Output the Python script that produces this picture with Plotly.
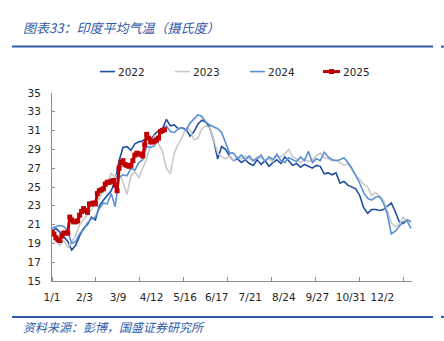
import datetime as dt
import plotly.graph_objects as go

# ---------------- data ----------------
grid_days = list(range(0, 365, 4))  # day-of-year index, every 4 days

t2022 = [20.3, 20.6, 20.2, 19.7, 19.2, 18.3, 18.8, 19.8, 20.6, 21.0, 21.8, 21.5,
         23.0, 23.6, 24.1, 24.6, 25.6, 27.8, 29.2, 29.3, 28.9, 29.6, 29.8, 29.9,
         30.3, 30.0, 30.6, 31.0, 31.2, 32.2, 31.5, 31.6, 31.2, 31.3, 31.1, 30.4,
         30.9, 31.7, 32.1, 31.9, 31.3, 29.9, 28.0, 29.3, 29.0, 28.3, 27.8, 28.0,
         27.6, 27.9, 27.5, 27.3, 27.9, 27.4, 27.8, 27.2, 27.6, 27.9, 27.5, 28.2,
         27.8, 27.3, 27.5, 27.1, 27.4, 27.2, 27.0, 27.3, 27.2, 26.4, 26.5, 26.3,
         26.5, 25.4, 25.6, 25.2, 25.0, 24.8, 24.1, 22.8, 22.2, 22.6, 22.6, 22.5,
         22.6, 23.0, 23.3, 22.4, 21.3, 21.1, 21.5, 21.3]

t2023 = [20.3, 19.2, 18.8, 19.3, 18.6, 19.2, 19.8, 21.0, 21.5, 22.0, 22.6, 23.3,
         23.8, 24.5, 25.2, 26.5, 26.0, 26.5, 25.5, 24.2, 26.2, 26.6, 26.0, 27.0,
         28.0, 29.5, 30.5, 29.6, 28.8, 27.0, 26.4, 28.6, 29.6, 30.3, 31.3, 31.1,
         30.0, 30.2, 31.2, 31.5, 31.3, 30.0, 28.6, 28.2, 28.0, 28.3, 27.8, 28.2,
         28.0, 28.3, 28.0, 27.8, 28.2, 28.1, 27.9, 28.0, 27.7, 28.3, 28.2, 28.5,
         29.0, 28.2, 28.0, 27.6, 27.9, 27.7, 27.9, 28.3, 28.6, 28.1, 28.0, 27.8,
         27.9, 27.6, 27.3, 27.5, 26.8, 26.2, 25.8, 25.3, 25.0, 24.1, 24.4, 24.0,
         23.6, 22.5, 21.2, 20.8, 21.0, 21.8, 21.4, 21.2]

t2024 = [20.6, 20.8, 20.9, 20.8, 20.3, 19.0, 19.2, 20.0, 20.5, 21.2, 21.6, 21.8,
         22.7, 23.3, 23.2, 24.3, 22.9, 26.0, 26.3, 26.2, 27.0, 26.8, 27.6, 27.9,
         29.3, 29.2, 29.4, 30.3, 31.3, 31.5, 30.9, 30.8, 31.2, 31.3, 31.0, 31.8,
         32.3, 32.7, 32.5, 31.9, 31.6, 31.4, 31.2, 30.8, 29.8, 28.6, 28.6, 28.0,
         28.4, 27.9, 28.3, 27.8, 28.0, 28.4, 27.7, 28.2, 27.9, 28.5, 27.8, 27.6,
         28.1, 27.9, 27.7, 28.2, 27.8, 28.8, 27.6, 28.0, 27.8, 28.7, 28.2, 27.9,
         27.8, 27.9, 28.1, 27.6, 27.0, 26.2, 25.4, 24.4, 23.8, 23.6, 23.9, 24.0,
         23.3, 22.1, 20.0, 20.3, 20.8, 21.3, 21.4, 20.6]

days_2025 = list(range(0, 116, 2))
t2025 = [20.2, 20.0, 19.6, 19.4, 19.3, 19.8, 20.1, 20.1, 20.1, 21.8, 21.5, 21.3,
         21.3, 21.4, 22.0, 22.4, 22.7, 22.5, 22.3, 23.2, 23.2, 23.3, 23.2, 24.3,
         24.6, 24.7, 24.8, 25.3, 25.5, 25.5, 25.6, 25.7, 25.2, 24.6, 27.0, 27.6,
         27.8, 27.4, 27.3, 27.2, 27.3, 27.8, 28.4, 28.6, 28.5, 28.5, 28.3, 29.5,
         30.6, 30.2, 29.8, 29.8, 29.9, 30.0, 30.2, 30.9, 31.0, 31.1]

tick_labels = ["1/1", "2/3", "3/9", "4/12", "5/16", "6/17", "7/21", "8/24",
               "9/27", "10/31", "12/2"]
y_ticks = list(range(15, 36, 2))

title_text = "图表33：印度平均气温（摄氏度）"
source_text = "资料来源：彭博，国盛证券研究所"

# ---------------- derived ----------------
def doy(lbl):
    m, d = map(int, lbl.split("/"))
    return (dt.date(2023, m, d) - dt.date(2023, 1, 1)).days

tick_vals = [doy(l) for l in tick_labels]

C2022 = "#1F4E9F"
C2023 = "#C9C9C9"
C2024 = "#5B8FD6"
C2025 = "#C00000"
BLUE = "#2E5BA8"
AXIS = "#8C8C8C"
FONT = "DejaVu Sans"

fig = go.Figure()
fig.add_trace(go.Scatter(x=grid_days, y=t2022, mode="lines", name="2022",
                         line=dict(color=C2022, width=1.6)))
fig.add_trace(go.Scatter(x=grid_days, y=t2023, mode="lines", name="2023",
                         line=dict(color=C2023, width=1.6)))
fig.add_trace(go.Scatter(x=grid_days, y=t2024, mode="lines", name="2024",
                         line=dict(color=C2024, width=1.6)))
fig.add_trace(go.Scatter(x=days_2025, y=t2025, mode="lines+markers", name="2025",
                         line=dict(color=C2025, width=3),
                         marker=dict(symbol="square", size=5, color=C2025)))

W, H = 444, 341
L, R, T, B = 52, 32, 92.5, 60
pw, ph = W - L - R, H - T - B

def px_x(px):
    return (px - L) / pw

def px_y(py):
    return (H - B - py) / ph

shapes = []
annotations = []

# header / footer rules
for py in (46, 317):
    shapes.append(dict(type="line", xref="paper", yref="paper",
                       x0=px_x(12), x1=px_x(433), y0=px_y(py), y1=px_y(py),
                       line=dict(color=BLUE, width=2)))
    shapes.append(dict(type="line", xref="paper", yref="paper",
                       x0=px_x(441), x1=px_x(444), y0=px_y(py), y1=px_y(py),
                       line=dict(color=BLUE, width=2)))

annotations.append(dict(text=title_text, xref="paper", yref="paper",
                        x=px_x(21), y=px_y(27), xanchor="left", yanchor="middle",
                        showarrow=False,
                        font=dict(family="Noto Sans CJK SC", size=13, color=BLUE,
                                  style="italic")))
annotations.append(dict(text=source_text, xref="paper", yref="paper",
                        x=px_x(21), y=px_y(327), xanchor="left", yanchor="middle",
                        showarrow=False,
                        font=dict(family="Noto Sans CJK SC", size=12, color=BLUE,
                                  style="italic")))

# manual legend
legend_items = [("2022", C2022, 100), ("2023", C2023, 175),
                ("2024", C2024, 250), ("2025", C2025, 323)]
ly = 71
for name, col, x0 in legend_items:
    x1 = x0 + (17 if name == "2025" else 15)
    shapes.append(dict(type="line", xref="paper", yref="paper",
                       x0=px_x(x0), x1=px_x(x1), y0=px_y(ly), y1=px_y(ly),
                       line=dict(color=col, width=3 if name == "2025" else 1.6)))
    if name == "2025":
        xc = (x0 + x1) / 2
        shapes.append(dict(type="rect", xref="paper", yref="paper",
                           x0=px_x(xc - 2.5), x1=px_x(xc + 2.5),
                           y0=px_y(ly + 2.5), y1=px_y(ly - 2.5),
                           fillcolor=col, line=dict(width=0)))
    annotations.append(dict(text=name, xref="paper", yref="paper",
                            x=px_x(x1 + 0.5), y=px_y(ly), xanchor="left",
                            yanchor="middle", showarrow=False,
                            font=dict(family=FONT, size=10.5, color="#262626")))

fig.update_layout(
    width=W, height=H, autosize=False,
    margin=dict(l=L, r=R, t=T, b=B, pad=0),
    paper_bgcolor="white", plot_bgcolor="white",
    showlegend=False,
    shapes=shapes, annotations=annotations,
    font=dict(family=FONT, size=10.5, color="#262626"),
)
fig.update_xaxes(range=[0, 365], tickvals=tick_vals, ticktext=tick_labels,
                 ticks="", showgrid=False, zeroline=False,
                 showline=True, linecolor=AXIS, linewidth=1,
                 ticklabelstandoff=6,
                 minor=dict(tick0=0, dtick=44.6, ticks="inside", ticklen=4,
                            tickcolor=AXIS, showgrid=False))
fig.update_yaxes(range=[15, 35], tickvals=y_ticks, ticks="inside", ticklen=3,
                 tickcolor=AXIS, showgrid=False, zeroline=False,
                 showline=True, linecolor=AXIS, linewidth=1,
                 ticklabelstandoff=8)

fig.write_html("out.html")
